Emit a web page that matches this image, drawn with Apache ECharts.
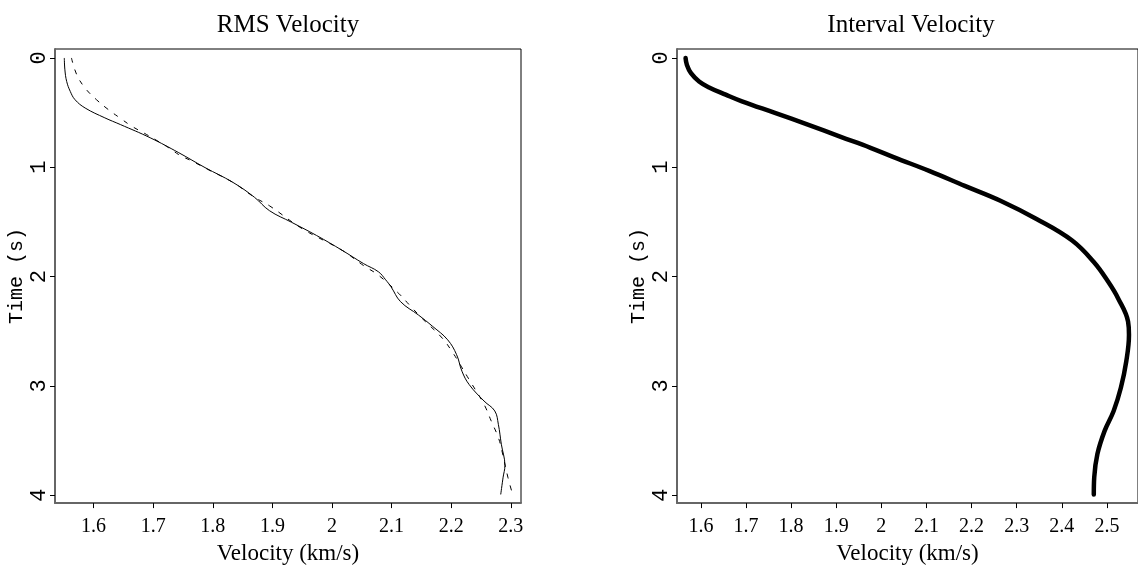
<!DOCTYPE html>
<html>
<head>
<meta charset="utf-8">
<script src="https://cdn.jsdelivr.net/npm/echarts@6/dist/echarts.min.js"></script>
<style>
  html, body { margin: 0; padding: 0; background: #fff; }
  #chart { width: 1138px; height: 570px; }
</style>
</head>
<body>
<div id="chart"></div>
<script>
// RMS velocity, solid curve (time s / velocity km/s)
var rmsTime = [0, 0.109, 0.215, 0.306, 0.382, 0.458, 0.548, 0.609, 0.73, 0.867, 1.003, 1.139, 1.275, 1.397, 1.503, 1.624, 1.76, 1.882, 1.957, 2.03, 2.094, 2.23, 2.352, 2.457, 2.579, 2.715, 2.867, 2.988, 3.139, 3.23, 3.352, 3.534, 3.73, 3.836, 3.994];
var rmsVel = [1.551, 1.552, 1.555, 1.561, 1.569, 1.586, 1.619, 1.645, 1.695, 1.743, 1.787, 1.834, 1.870, 1.895, 1.932, 1.974, 2.017, 2.053, 2.078, 2.090, 2.099, 2.115, 2.145, 2.169, 2.194, 2.209, 2.218, 2.230, 2.255, 2.273, 2.279, 2.284, 2.290, 2.287, 2.283];
// RMS velocity, dashed curve
var dashTime = [0, 0.155, 0.276, 0.382, 0.473, 0.548, 0.624, 0.685, 0.745, 0.821, 0.891, 0.943, 1.018, 1.139, 1.275, 1.352, 1.562, 1.76, 1.9, 1.988, 2.155, 2.261, 2.382, 2.564, 2.7, 2.806, 2.943, 3.17, 3.321, 3.473, 3.594, 3.836, 3.994];
var dashVel = [1.563, 1.572, 1.586, 1.605, 1.625, 1.644, 1.664, 1.684, 1.703, 1.726, 1.745, 1.765, 1.791, 1.834, 1.870, 1.895, 1.950, 2.017, 2.053, 2.078, 2.112, 2.130, 2.151, 2.185, 2.203, 2.215, 2.230, 2.255, 2.267, 2.279, 2.285, 2.295, 2.303];
// interval velocity
var intTime = [0, 0.064, 0.139, 0.215, 0.267, 0.336, 0.397, 0.503, 0.61, 0.722, 0.822, 0.912, 1.033, 1.17, 1.306, 1.473, 1.67, 1.867, 2.048, 2.2, 2.412, 2.533, 2.776, 3.018, 3.23, 3.412, 3.624, 3.836, 3.994];
var intVel = [1.566, 1.569, 1.578, 1.596, 1.617, 1.655, 1.691, 1.764, 1.837, 1.910, 1.976, 2.030, 2.106, 2.185, 2.264, 2.344, 2.423, 2.471, 2.503, 2.525, 2.547, 2.549, 2.543, 2.531, 2.515, 2.495, 2.479, 2.472, 2.471];

var timeTicks = [0, 1, 2, 3, 4];
var velTicksLeft = [1.6, 1.7, 1.8, 1.9, 2, 2.1, 2.2, 2.3];
var velTicksRight = [1.6, 1.7, 1.8, 1.9, 2, 2.1, 2.2, 2.3, 2.4, 2.5];

function pairs(v, t) {
  var out = [];
  for (var i = 0; i < v.length; i++) out.push([v[i], t[i]]);
  return out;
}

var serif = 'Liberation Serif';
var mono = 'Liberation Mono';

function xAxisOf(gridIndex, min, max, ticks) {
  return {
    type: 'value',
    gridIndex: gridIndex,
    min: min,
    max: max,
    name: 'Velocity (km/s)',
    nameLocation: 'middle',
    nameGap: 37,
    nameTextStyle: { fontFamily: serif, fontSize: 23, color: '#000' },
    axisLine: { show: true, onZero: false, lineStyle: { color: '#666', width: 2 } },
    axisTick: { show: true, length: 5, customValues: ticks, lineStyle: { color: '#000' } },
    axisLabel: { customValues: ticks, margin: 14, fontFamily: serif, fontSize: 20, color: '#000' },
    splitLine: { show: false }
  };
}

function yAxisOf(gridIndex) {
  return {
    type: 'value',
    gridIndex: gridIndex,
    inverse: true,
    min: -0.082,
    max: 4.073,
    name: 'Time (s)',
    nameLocation: 'middle',
    nameGap: 20,
    nameTextStyle: { fontFamily: mono, fontSize: 20, color: '#000' },
    axisLine: { show: true, onZero: false, lineStyle: { color: '#666', width: 2 } },
    axisTick: { show: true, length: 5, customValues: timeTicks, lineStyle: { color: '#000' } },
    axisLabel: { customValues: timeTicks, rotate: 90, margin: 5, fontFamily: mono, fontSize: 22, color: '#000' },
    splitLine: { show: false }
  };
}

var chart = echarts.init(document.getElementById('chart'));
chart.setOption({
  animation: false,
  backgroundColor: '#fff',
  graphic: [
    { type: 'text', x: 288, y: 25, style: { text: 'RMS Velocity', font: '25px "Liberation Serif"', fill: '#000', align: 'center', verticalAlign: 'middle' } },
    { type: 'text', x: 911, y: 25, style: { text: 'Interval Velocity', font: '25px "Liberation Serif"', fill: '#000', align: 'center', verticalAlign: 'middle' } }
  ],
  grid: [
    { left: 55, right: 617, top: 49, bottom: 64, show: true, borderColor: '#000', borderWidth: 1 },
    { left: 677, right: -6, top: 49, bottom: 64, show: true, borderColor: '#000', borderWidth: 1 }
  ],
  xAxis: [
    xAxisOf(0, 1.5354, 2.317, velTicksLeft),
    xAxisOf(1, 1.547, 2.569, velTicksRight)
  ],
  yAxis: [yAxisOf(0), yAxisOf(1)],
  series: [
    {
      type: 'line', xAxisIndex: 0, yAxisIndex: 0, data: pairs(rmsVel, rmsTime),
      showSymbol: false, smooth: 0.4, lineStyle: { color: '#000', width: 1 }
    },
    {
      type: 'line', xAxisIndex: 0, yAxisIndex: 0, data: pairs(dashVel, dashTime),
      showSymbol: false, smooth: 0.4, lineStyle: { color: '#000', width: 1, type: [5, 7] }
    },
    {
      type: 'line', xAxisIndex: 1, yAxisIndex: 1, data: pairs(intVel, intTime),
      showSymbol: false, smooth: 0.4, lineStyle: { color: '#000', width: 4.5, cap: 'round', join: 'round' }
    }
  ]
});
</script>
</body>
</html>
